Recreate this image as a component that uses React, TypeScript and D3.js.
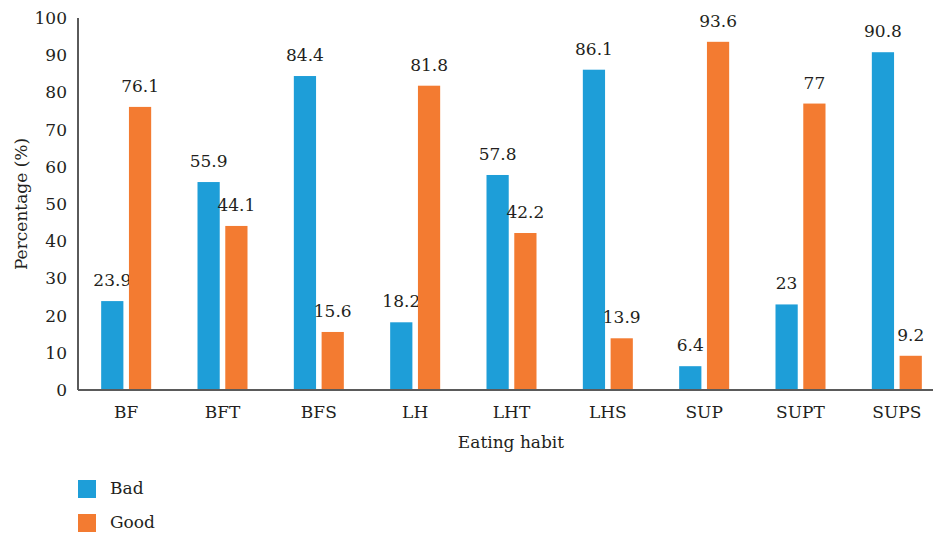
import React from "react";
import * as d3 from "d3";

const categories = ["BF", "BFT", "BFS", "LH", "LHT", "LHS", "SUP", "SUPT", "SUPS"];
const series = ["Bad", "Good"];
const bad = [23.9, 55.9, 84.4, 18.2, 57.8, 86.1, 6.4, 23, 90.8];
const good = [76.1, 44.1, 15.6, 81.8, 42.2, 13.9, 93.6, 77, 9.2];
const yTicks = [0, 10, 20, 30, 40, 50, 60, 70, 80, 90, 100];
const colors = ["#1e9ed8", "#f37b31"];

const W = 933;
const H = 533;
const FONT = '"DejaVu Serif", serif';
const TEXT = "#231f20";

export default function App() {
  const left = 78;
  const x0 = d3.scaleBand<string>().domain(categories).range([left, 945]);
  const bw = x0.bandwidth();
  const x1 = d3.scaleBand<string>().domain(series).range([bw / 2 - 25, bw / 2 + 25]).paddingInner(0.2);
  const y = d3.scaleLinear().domain([0, 100]).range([390, 18]);

  const rows = categories.map((c, i) => ({ c, vals: [bad[i], good[i]] }));

  return (
    <svg width={W} height={H} style={{ position: "absolute", left: 0, top: 0, fontFamily: FONT }}>
      <rect width={W} height={H} fill="#fff" />
      {/* bars + labels */}
      {rows.map(r => (
        <g key={r.c} transform={`translate(${x0(r.c)},0)`}>
          {r.vals.map((v, j) => (
            <g key={series[j]}>
              <rect x={x1(series[j])} y={y(v)} width={x1.bandwidth()} height={y(0) - y(v)} fill={colors[j]} />
              <text x={(x1(series[j]) as number) + x1.bandwidth() / 2} y={y(v) - 15} textAnchor="middle" fontSize={17} fill={TEXT}>
                {v}
              </text>
            </g>
          ))}
          <text x={bw / 2} y={418} textAnchor="middle" fontSize={17} fill={TEXT}>{r.c}</text>
        </g>
      ))}
      {/* axes */}
      <line x1={left} x2={left} y1={y(100)} y2={y(0)} stroke="#5a5a5a" strokeWidth={2} />
      <line x1={left} x2={W} y1={y(0)} y2={y(0)} stroke="#5a5a5a" strokeWidth={2} />
      {yTicks.map(t => (
        <text key={t} x={67} y={y(t)} dy="0.35em" textAnchor="end" fontSize={17} fill={TEXT}>{t}</text>
      ))}
      <text transform={`translate(27,${(y(0) + y(100)) / 2}) rotate(-90)`} textAnchor="middle" fontSize={17} fill={TEXT}>
        Percentage (%)
      </text>
      <text x={511} y={448} textAnchor="middle" fontSize={17} fill={TEXT}>Eating habit</text>
      {/* legend */}
      {series.map((s, j) => (
        <g key={s} transform={`translate(${left},${480 + j * 34})`}>
          <rect width={18} height={18} fill={colors[j]} />
          <text x={32} y={14} fontSize={17} fill={TEXT}>{s}</text>
        </g>
      ))}
    </svg>
  );
}
